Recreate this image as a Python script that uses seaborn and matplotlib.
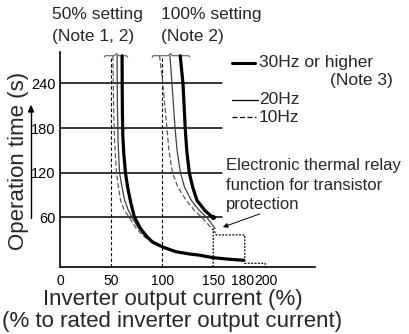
import matplotlib
matplotlib.use("Agg")
import matplotlib.pyplot as plt
import matplotlib.transforms as mtransforms
import seaborn as sns
from matplotlib.lines import Line2D

sns.set_style("white")
plt.rcParams['font.family'] = ['Liberation Sans', 'DejaVu Sans']

# Curve data: (output current %, operation time s)
# 50% setting
s50_30hz_x = [60.5, 60.6, 60.8, 61.2, 62.2, 63.8, 66.0, 69.0, 72.5, 78.4, 84.9, 90.4, 100.3, 113.4, 126.5, 136.3, 150, 165, 180]
s50_30hz_y = [277, 240, 200, 170, 145, 120, 100, 80, 61, 45.5, 34.2, 27, 20.4, 14, 11, 9.4, 6.0, 4.0, 2.5]
s50_20hz_x = [55.6, 55.7, 56.0, 56.6, 58.0, 60.5, 63.0, 66.5, 70.3, 76.0, 82.3, 89.0, 99.5, 110]
s50_20hz_y = [277, 240, 200, 160, 120, 100, 83, 70, 60, 47, 36, 28, 20.5, 15]
s50_10hz_x = [51.5, 51.8, 52.3, 53.2, 55.0, 57.0, 59.0, 62.5, 67.6, 73.5, 80.7, 89.0, 98.7, 110]
s50_10hz_y = [277, 240, 200, 160, 120, 100, 83, 70, 60, 47, 36, 27, 20.4, 14.5]

# 100% setting
s100_30hz_x = [117.6, 120.3, 121.8, 122.5, 124.0, 126.5, 130.0, 134.0, 142.0, 149.6]
s100_30hz_y = [277, 240, 200, 180, 150, 120, 100, 83, 69, 60]
s100_20hz_x = [107.5, 109.5, 111.0, 112.5, 114.5, 117.8, 122.0, 128.5, 136.0, 143.7, 152.0]
s100_20hz_y = [277, 240, 210, 180, 150, 120, 100, 83, 70, 60, 45]
s100_10hz_x = [97.3, 100.5, 102.5, 104.5, 106.5, 110.0, 115.5, 123.5, 131.0, 139.0, 150.0]
s100_10hz_y = [277, 240, 210, 180, 150, 120, 100, 83, 70, 60, 43]

# transistor protection (electronic thermal relay) step line
relay_x = [150, 150, 150, 153, 181, 181, 201, 201]
relay_y = [-6.5, 44.5, 44.5, 36.5, 36.5, -1.5, -1.5, -6.5]

x_ticks = [0, 50, 100, 150, 180, 200]
y_ticks = [60, 120, 180, 240]

W, H = 410, 334
fig = plt.figure(figsize=(W / 100, H / 100), dpi=100)
ax = fig.add_axes([60.5 / W, 1 - 267 / H, 254.5 / W, 215 / H])
ax.set_xlim(0, 250)
ax.set_ylim(-6.5, 282)

# grid lines and reference lines
for yv in y_ticks:
    ax.plot([0, 159], [yv, yv], color='black', lw=1.1, zorder=1)
for xv in [50, 100]:
    ax.plot([xv, xv], [-6.5, 277], color='black', lw=0.8, dashes=(3, 2), zorder=1)

# break brackets at the top
for cx, x0, x1 in [(55, 43, 66), (108, 90, 127)]:
    ax.plot([x0, x0 + 1, cx - 2, cx, cx + 2, x1 - 1, x1],
            [275, 277, 277, 280, 277, 277, 275], color='0.35', lw=0.8, clip_on=False)

thick = dict(color='black', lw=2.3)
thin = dict(color='0.25', lw=0.9)
dash = dict(color='0.35', lw=0.9, dashes=(4, 2))

sns.lineplot(x=s50_10hz_x, y=s50_10hz_y, sort=False, estimator=None, ax=ax, **dash)
sns.lineplot(x=s50_20hz_x, y=s50_20hz_y, sort=False, estimator=None, ax=ax, **thin)
sns.lineplot(x=s50_30hz_x, y=s50_30hz_y, sort=False, estimator=None, ax=ax, **thick)
sns.lineplot(x=s100_10hz_x, y=s100_10hz_y, sort=False, estimator=None, ax=ax, **dash)
sns.lineplot(x=s100_20hz_x, y=s100_20hz_y, sort=False, estimator=None, ax=ax, **thin)
sns.lineplot(x=s100_30hz_x, y=s100_30hz_y, sort=False, estimator=None, ax=ax, **thick)
ax.plot(s100_30hz_x[-1], s100_30hz_y[-1], 'o', color='black', ms=2.5)

ax.plot(relay_x, relay_y, color='black', lw=0.9, dashes=(1.5, 1.2), clip_on=False)

ax.annotate('', xy=(159.5, 47), xytext=(195.6, 64.7), annotation_clip=False,
            arrowprops=dict(arrowstyle='-|>', color='black', lw=0.7,
                            mutation_scale=7, shrinkA=0, shrinkB=0))

# axes styling
for side in ['top', 'right']:
    ax.spines[side].set_visible(False)
for side in ['left', 'bottom']:
    ax.spines[side].set_color('black')
    ax.spines[side].set_linewidth(1.2)
ax.set_xticks(x_ticks)
ax.set_xticklabels([str(v) for v in x_ticks])
ax.set_yticks(y_ticks)
ax.set_yticklabels([str(v) for v in y_ticks])
ax.tick_params(axis='x', length=0, pad=5, labelsize=10, colors='black')
ax.tick_params(axis='y', length=2.5, width=1.1, pad=1, labelsize=10.5, colors='black', direction='out')
ax.grid(False)

# 180 and 200 labels sit edge to edge in the original
labels = ax.get_xticklabels()
for lab, dx in [(labels[4], -1.5), (labels[5], 2.0)]:
    lab.set_transform(lab.get_transform() + mtransforms.ScaledTranslation(dx / 100, 0, fig.dpi_scale_trans))


def fx(px):
    return px / W


def fy(py):
    return 1 - py / H


# titles above the curves
fig.text(fx(52), fy(15), '50% setting', fontsize=12.5, va='center', ha='left')
fig.text(fx(52), fy(36), '(Note 1, 2)', fontsize=12.5, va='center', ha='left')
fig.text(fx(161), fy(15), '100% setting', fontsize=12.5, va='center', ha='left')
fig.text(fx(161), fy(36), '(Note 2)', fontsize=12.5, va='center', ha='left')

# legend
fig.add_artist(Line2D([fx(232), fx(255)], [fy(63), fy(63)], color='black', lw=2.2))
fig.text(fx(259), fy(63), '30Hz or higher', fontsize=12.5, va='center', ha='left')
fig.text(fx(393), fy(80), '(Note 3)', fontsize=12.5, va='center', ha='right')
fig.add_artist(Line2D([fx(232), fx(258)], [fy(100), fy(100)], color='black', lw=0.9))
fig.text(fx(259), fy(100), '20Hz', fontsize=12.5, va='center', ha='left')
fig.add_artist(Line2D([fx(232), fx(256)], [fy(117), fy(117)], color='black', lw=0.9, dashes=(4, 2)))
fig.text(fx(259), fy(117), '10Hz', fontsize=12.5, va='center', ha='left')

fig.text(fx(226), fy(165), 'Electronic thermal relay', fontsize=12, va='center', ha='left')
fig.text(fx(226), fy(185), 'function for transistor', fontsize=12, va='center', ha='left')
fig.text(fx(226), fy(205), 'protection', fontsize=12, va='center', ha='left')

# axis labels
fig.text(fx(19), fy(161), 'Operation time (s)', fontsize=16, rotation=90, va='center', ha='center')
fig.add_artist(plt.Line2D([fx(31), fx(31)], [fy(218), fy(112)], color='black', lw=1.0))
fig.add_artist(plt.Polygon([[fx(28.5), fy(112)], [fx(33.5), fy(112)], [fx(31), fy(106)]],
                           closed=True, color='black', transform=fig.transFigure))
fig.text(fx(173), fy(300), 'Inverter output current (%)', fontsize=16, va='center', ha='center')
fig.text(fx(172.5), fy(322), '(% to rated inverter output current)', fontsize=16, va='center', ha='center')

fig.savefig('out.png', dpi=100, facecolor='white')
